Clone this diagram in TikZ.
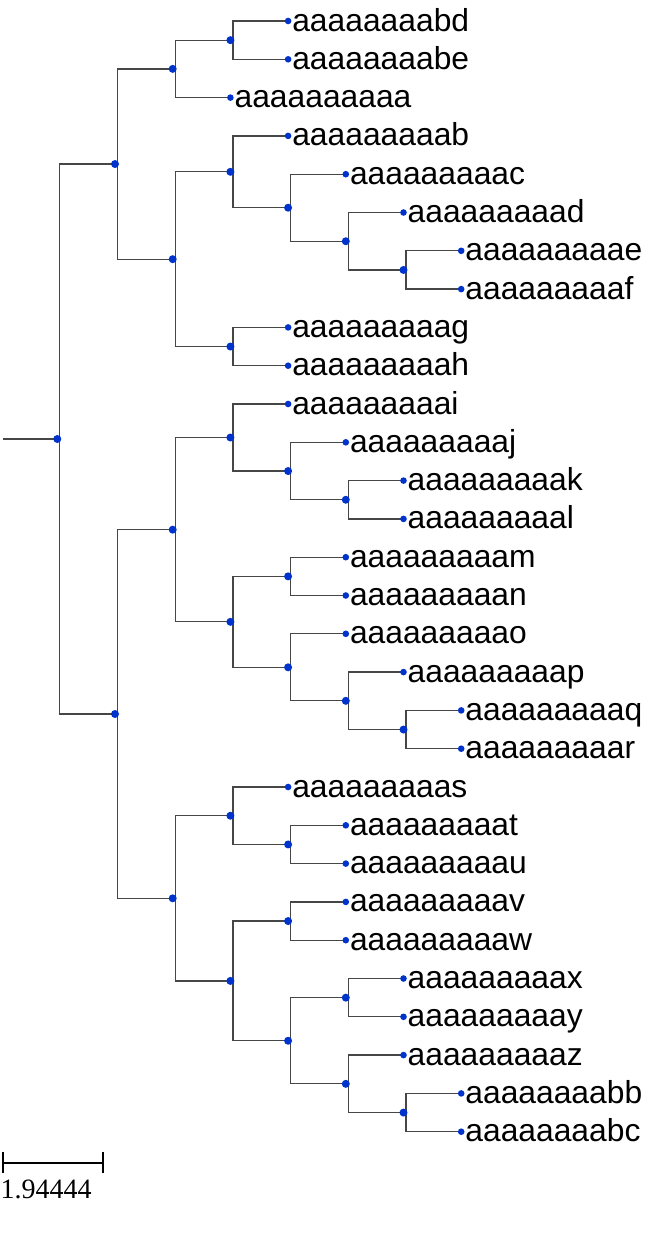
\documentclass[tikz,border=0pt]{standalone}
\usepackage{fontspec}
\setmainfont{Liberation Sans}
\newfontfamily\scalefont{Liberation Serif}
\definecolor{dotblue}{RGB}{0,51,204}
\definecolor{branch}{RGB}{70,70,70}
\begin{document}
\begin{tikzpicture}[x=1pt,y=-1pt,
  br/.style={draw=branch,line width=1.25pt},
  lbl/.style={anchor=base west,inner sep=0pt,font=\fontsize{31.8}{36}\selectfont},
  scl/.style={anchor=base west,inner sep=0pt,font=\scalefont\fontsize{28}{32}\selectfont}]
\useasboundingbox (0,0) rectangle (648,1253);
\newcommand\inod[3]{\coordinate (#1) at ({57.3+57.7*#2},{21+38.3*#3});}
\newcommand\leafn[4]{\coordinate (#1) at ({57.3+57.7*#2},{21+38.3*#3});
  \node[lbl] (#1t) at ([xshift=4pt,yshift=-10pt]#1) {#4};}
\newcommand\edge[2]{\draw[br] ([xshift=2.5pt]#1) |- (#2);}
% internal nodes
\inod{root}{0}{10.9140625}
\inod{A}{1}{3.734375}
\inod{A1}{2}{1.25}
\inod{A1a}{3}{0.5}
\inod{A2}{2}{6.21875}
\inod{A2a}{3}{3.9375}
\inod{cdef}{4}{4.875}
\inod{def}{5}{5.75}
\inod{ef}{6}{6.5}
\inod{A2b}{3}{8.5}
\inod{B}{1}{18.09375}
\inod{B1}{2}{13.28125}
\inod{B1a}{3}{10.875}
\inod{jkl}{4}{11.75}
\inod{kl}{5}{12.5}
\inod{B1b}{3}{15.6875}
\inod{mn}{4}{14.5}
\inod{opqr}{4}{16.875}
\inod{pqr}{5}{17.75}
\inod{qr}{6}{18.5}
\inod{B2}{2}{22.90625}
\inod{B2a}{3}{20.75}
\inod{tu}{4}{21.5}
\inod{B2b}{3}{25.0625}
\inod{vw}{4}{23.5}
\inod{xyz}{4}{26.625}
\inod{xy}{5}{25.5}
\inod{zbbc}{5}{27.75}
\inod{bbc}{6}{28.5}
% leaves
\leafn{l0}{4}{0}{aaaaaaaabd}
\leafn{l1}{4}{1}{aaaaaaaabe}
\leafn{l2}{3}{2}{aaaaaaaaaa}
\leafn{l3}{4}{3}{aaaaaaaaab}
\leafn{l4}{5}{4}{aaaaaaaaac}
\leafn{l5}{6}{5}{aaaaaaaaad}
\leafn{l6}{7}{6}{aaaaaaaaae}
\leafn{l7}{7}{7}{aaaaaaaaaf}
\leafn{l8}{4}{8}{aaaaaaaaag}
\leafn{l9}{4}{9}{aaaaaaaaah}
\leafn{l10}{4}{10}{aaaaaaaaai}
\leafn{l11}{5}{11}{aaaaaaaaaj}
\leafn{l12}{6}{12}{aaaaaaaaak}
\leafn{l13}{6}{13}{aaaaaaaaal}
\leafn{l14}{5}{14}{aaaaaaaaam}
\leafn{l15}{5}{15}{aaaaaaaaan}
\leafn{l16}{5}{16}{aaaaaaaaao}
\leafn{l17}{6}{17}{aaaaaaaaap}
\leafn{l18}{7}{18}{aaaaaaaaaq}
\leafn{l19}{7}{19}{aaaaaaaaar}
\leafn{l20}{4}{20}{aaaaaaaaas}
\leafn{l21}{5}{21}{aaaaaaaaat}
\leafn{l22}{5}{22}{aaaaaaaaau}
\leafn{l23}{5}{23}{aaaaaaaaav}
\leafn{l24}{5}{24}{aaaaaaaaaw}
\leafn{l25}{6}{25}{aaaaaaaaax}
\leafn{l26}{6}{26}{aaaaaaaaay}
\leafn{l27}{6}{27}{aaaaaaaaaz}
\leafn{l28}{7}{28}{aaaaaaaabb}
\leafn{l29}{7}{29}{aaaaaaaabc}
% root stem
\coordinate (stem) at (3,{21+38.3*10.9140625});
\draw[br] (stem) -- (root);
% edges
\edge{root}{A}\edge{root}{B}
\edge{A}{A1}\edge{A}{A2}
\edge{A1}{A1a}\edge{A1}{l2}
\edge{A1a}{l0}\edge{A1a}{l1}
\edge{A2}{A2a}\edge{A2}{A2b}
\edge{A2a}{l3}\edge{A2a}{cdef}
\edge{cdef}{l4}\edge{cdef}{def}
\edge{def}{l5}\edge{def}{ef}
\edge{ef}{l6}\edge{ef}{l7}
\edge{A2b}{l8}\edge{A2b}{l9}
\edge{B}{B1}\edge{B}{B2}
\edge{B1}{B1a}\edge{B1}{B1b}
\edge{B1a}{l10}\edge{B1a}{jkl}
\edge{jkl}{l11}\edge{jkl}{kl}
\edge{kl}{l12}\edge{kl}{l13}
\edge{B1b}{mn}\edge{B1b}{opqr}
\edge{mn}{l14}\edge{mn}{l15}
\edge{opqr}{l16}\edge{opqr}{pqr}
\edge{pqr}{l17}\edge{pqr}{qr}
\edge{qr}{l18}\edge{qr}{l19}
\edge{B2}{B2a}\edge{B2}{B2b}
\edge{B2a}{l20}\edge{B2a}{tu}
\edge{tu}{l21}\edge{tu}{l22}
\edge{B2b}{vw}\edge{B2b}{xyz}
\edge{vw}{l23}\edge{vw}{l24}
\edge{xyz}{xy}\edge{xyz}{zbbc}
\edge{xy}{l25}\edge{xy}{l26}
\edge{zbbc}{l27}\edge{zbbc}{bbc}
\edge{bbc}{l28}\edge{bbc}{l29}
% dots
\foreach \n in {root,A,A1,A1a,A2,A2a,cdef,def,ef,A2b,B,B1,B1a,jkl,kl,B1b,mn,opqr,pqr,qr,B2,B2a,tu,B2b,vw,xyz,xy,zbbc,bbc}
  \fill[dotblue] (\n) circle[radius=4];
\foreach \i in {0,...,29}
  \fill[dotblue] (l\i) circle[radius=3.3];
% scale bar
\coordinate (sbl) at (3,1163);
\coordinate (sbr) at (103,1163);
\draw[line width=2pt] (sbl) -- (sbr);
\draw[line width=2.5pt] ([yshift=11pt]sbl) -- ([yshift=-10pt]sbl);
\draw[line width=2.5pt] ([yshift=11pt]sbr) -- ([yshift=-10pt]sbr);
\node[scl] (sblabel) at (0.5,1198) {1.94444};
\end{tikzpicture}
\end{document}
